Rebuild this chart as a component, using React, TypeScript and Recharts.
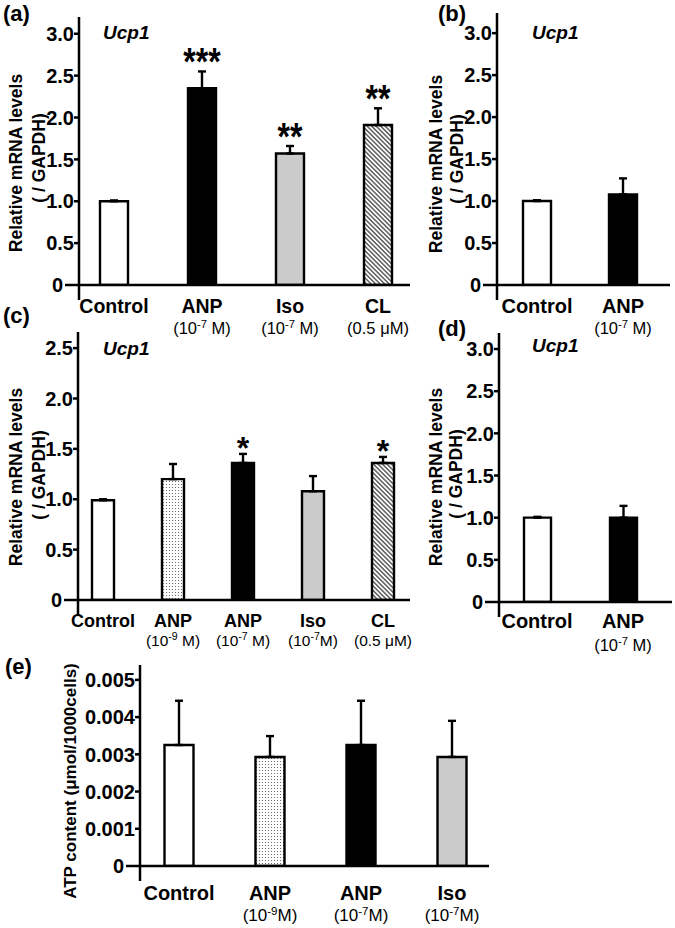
import React from 'react';
import { BarChart, Bar, XAxis, YAxis, ErrorBar, Cell, LabelList } from 'recharts';

const FONT = '"Liberation Sans", Arial, Helvetica, sans-serif';
const GREY = '#cbcbcb';

// (a) Ucp1, brown adipocytes
const aNames = ['Control', 'ANP', 'Iso', 'CL'];
const aDoses = ['', '(10{-7} M)', '(10{-7} M)', '(0.5 μM)'];
const aMeans = [1.0, 2.35, 1.57, 1.91];
const aErrs = [0.01, 0.2, 0.09, 0.2];
const aStars = ['', '***', '**', '**'];

// (b) Ucp1
const bNames = ['Control', 'ANP'];
const bDoses = ['', '(10{-7} M)'];
const bMeans = [1.0, 1.08];
const bErrs = [0.01, 0.19];

// (c) Ucp1
const cNames = ['Control', 'ANP', 'ANP', 'Iso', 'CL'];
const cDoses = ['', '(10{-9} M)', '(10{-7} M)', '(10{-7}M)', '(0.5 μM)'];
const cMeans = [0.99, 1.2, 1.36, 1.08, 1.36];
const cErrs = [0.01, 0.15, 0.09, 0.15, 0.06];
const cStars = ['', '', '*', '', '*'];

// (d) Ucp1
const dNames = ['Control', 'ANP'];
const dDoses = ['', '(10{-7} M)'];
const dMeans = [1.0, 1.0];
const dErrs = [0.01, 0.14];

// (e) ATP content
const eNames = ['Control', 'ANP', 'ANP', 'Iso'];
const eDoses = ['', '(10{-9}M)', '(10{-7}M)', '(10{-7}M)'];
const eMeans = [0.00325, 0.00293, 0.00325, 0.00293];
const eErrs = [0.00119, 0.00056, 0.00119, 0.00097];

const mrnaTicks = [0, 0.5, 1.0, 1.5, 2.0, 2.5, 3.0];
const mrnaTicksC = [0, 0.5, 1.0, 1.5, 2.0, 2.5];
const atpTicks = [0, 0.001, 0.002, 0.003, 0.004, 0.005];

const fmt1 = (v: number) => (v === 0 ? '0' : v.toFixed(1));
const fmt3 = (v: number) => (v === 0 ? '0' : v.toFixed(3));

function Dose({ text, x, y, size }: { text: string; x: number; y: number; size: number }) {
  const parts = text.split(/(\{[^}]*\})/).filter(Boolean);
  const lift = size * 0.38;
  let raised = false;
  return (
    <text x={x} y={y} textAnchor="middle" fontSize={size} fontFamily={FONT} fill="#000">
      {parts.map((p, i) => {
        if (p.startsWith('{')) {
          raised = true;
          return (
            <tspan key={i} dy={-lift} fontSize={size * 0.68}>
              {p.slice(1, -1)}
            </tspan>
          );
        }
        const dy = raised ? lift : 0;
        raised = false;
        return (
          <tspan key={i} dy={dy}>
            {p}
          </tspan>
        );
      })}
    </text>
  );
}

type PanelProps = {
  id: string;
  left: number;
  top: number;
  width: number;
  height: number;
  margin: { top: number; right: number; bottom: number; left: number };
  yWidth: number;
  xHeight: number;
  domain: [number, number];
  ticks: number[];
  fmt: (v: number) => string;
  tickSize: number;
  names: string[];
  doses: string[];
  means: number[];
  errs: number[];
  stars?: string[];
  fills: string[];
  barSize: number;
  padding: { left: number; right: number };
  nameDy: number;
  doseDy: number;
  nameSize: number;
  doseSize: number;
  starDy?: number;
  starStretch?: number;
};

function Panel(p: PanelProps) {
  const data = p.names.map((n, i) => ({
    id: i,
    name: n,
    mean: p.means[i],
    err: [0, p.errs[i]],
  }));

  const yTick = (t: any) => {
    const { x, y, payload } = t;
    const zero = payload.value === 0;
    const len = zero ? 14 : 5;
    return (
      <g>
        <line x1={x - len} x2={x} y1={y} y2={y} stroke="#000" strokeWidth={2.5} />
        {zero && <line x1={x} x2={x} y1={y} y2={y + 15} stroke="#000" strokeWidth={2.5} />}
        <text
          x={x - len - (zero ? 2 : 0)}
          y={y}
          dy="0.36em"
          textAnchor="end"
          fontSize={p.tickSize}
          fontWeight="bold"
          fontFamily={FONT}
          fill="#000"
        >
          {p.fmt(payload.value)}
        </text>
      </g>
    );
  };

  const xTick = (t: any) => {
    const { x, y, payload } = t;
    const dose = p.doses[payload.index];
    return (
      <g>
        <text
          x={x}
          y={y + p.nameDy}
          textAnchor="middle"
          fontSize={p.nameSize}
          fontWeight="bold"
          fontFamily={FONT}
          fill="#000"
        >
          {payload.value}
        </text>
        {dose && <Dose text={dose} x={x} y={y + p.doseDy} size={p.doseSize} />}
      </g>
    );
  };

  const starLabel = (props: any) => {
    const i = Number(props.value);
    const s = p.stars ? p.stars[i] : '';
    if (!s) return null;
    const vb = props.viewBox && props.viewBox.width !== undefined ? props.viewBox : props;
    const h = Math.abs(vb.height);
    const pxPerUnit = h / p.means[i];
    const top = Math.min(vb.y, vb.y + vb.height) - p.errs[i] * pxPerUnit;
    const cx = vb.x + vb.width / 2;
    const by = top + (p.starDy ?? 5);
    return (
      <text
        transform={`translate(${cx},${by}) scale(1,${p.starStretch ?? 1})`}
        textAnchor="middle"
        fontSize={32}
        fontWeight="bold"
        fontFamily={FONT}
        fill="#000"
      >
        {s}
      </text>
    );
  };

  return (
    <div style={{ position: 'absolute', left: p.left, top: p.top, width: p.width, height: p.height }}>
      <BarChart width={p.width} height={p.height} data={data} margin={p.margin}>
        <defs>
          <pattern id={`dots-${p.id}`} width={3} height={3} patternUnits="userSpaceOnUse">
            <rect width={3} height={3} fill="#fff" />
            <circle cx={1.5} cy={1.5} r={0.6} fill="#555" />
          </pattern>
          <pattern
            id={`hatch-${p.id}`}
            width={3.2}
            height={3.2}
            patternUnits="userSpaceOnUse"
            patternTransform="rotate(-45)"
          >
            <rect width={3.2} height={3.2} fill="#fff" />
            <line x1={0.8} y1={0} x2={0.8} y2={3.2} stroke="#222" strokeWidth={1.1} />
          </pattern>
        </defs>
        <XAxis
          dataKey="name"
          height={p.xHeight}
          padding={p.padding}
          interval={0}
          tickLine={false}
          tickSize={0}
          tickMargin={0}
          axisLine={{ stroke: '#000', strokeWidth: 2.5 }}
          tick={xTick}
        />
        <YAxis
          width={p.yWidth}
          domain={p.domain}
          ticks={p.ticks}
          interval={0}
          allowDataOverflow
          tickLine={false}
          tickSize={0}
          tickMargin={0}
          axisLine={{ stroke: '#000', strokeWidth: 2.5 }}
          tick={yTick}
        />
        <Bar dataKey="mean" barSize={p.barSize} stroke="#000" strokeWidth={2.4} isAnimationActive={false}>
          {data.map((_, i) => (
            <Cell key={i} fill={p.fills[i].replace('#ID', p.id)} />
          ))}
          <ErrorBar dataKey="err" width={4} stroke="#000" strokeWidth={2.4} direction="y" isAnimationActive={false} />
          {p.stars && <LabelList dataKey="id" content={starLabel} />}
        </Bar>
      </BarChart>
    </div>
  );
}

const WHITE = '#ffffff';
const BLACK = '#000000';
const DOTS = 'url(#dots-#ID)';
const HATCH = 'url(#hatch-#ID)';

function YTitle({ x1, x2, cy1, cy2, size }: { x1: number; x2: number; cy1: number; cy2: number; size: number }) {
  return (
    <g fontFamily={FONT} fontWeight="bold" fontSize={size} fill="#000" textAnchor="middle">
      <text transform={`translate(${x1},${cy1}) rotate(-90)`}>Relative mRNA levels</text>
      <text transform={`translate(${x2},${cy2}) rotate(-90)`}>( / GAPDH)</text>
    </g>
  );
}

export default function App() {
  return (
    <div style={{ position: 'absolute', left: 0, top: 0, width: 675, height: 928, background: '#fff', overflow: 'hidden' }}>
      <Panel
        id="a"
        left={0}
        top={0}
        width={412}
        height={345}
        margin={{ top: 17, right: 2, bottom: 0, left: 0 }}
        yWidth={79}
        xHeight={60}
        domain={[0, 3.2]}
        ticks={mrnaTicks}
        fmt={fmt1}
        tickSize={20}
        names={aNames}
        doses={aDoses}
        means={aMeans}
        errs={aErrs}
        stars={aStars}
        fills={[WHITE, BLACK, GREY, HATCH]}
        barSize={28}
        padding={{ left: -9, right: -12 }}
        nameDy={28}
        doseDy={49}
        nameSize={19.5}
        doseSize={16.5}
        starDy={4}
        starStretch={1.2}
      />
      <Panel
        id="b"
        left={412}
        top={0}
        width={263}
        height={345}
        margin={{ top: 13, right: 5, bottom: 0, left: 0 }}
        yWidth={85}
        xHeight={60}
        domain={[0, 3.24]}
        ticks={mrnaTicks}
        fmt={fmt1}
        tickSize={20}
        names={bNames}
        doses={bDoses}
        means={bMeans}
        errs={bErrs}
        fills={[WHITE, BLACK]}
        barSize={28}
        padding={{ left: -3, right: 4 }}
        nameDy={28}
        doseDy={49}
        nameSize={20}
        doseSize={16.5}
      />
      <Panel
        id="c"
        left={0}
        top={300}
        width={412}
        height={360}
        margin={{ top: 32, right: 2, bottom: 0, left: 0 }}
        yWidth={78}
        xHeight={60}
        domain={[0, 2.66]}
        ticks={mrnaTicksC}
        fmt={fmt1}
        tickSize={20}
        names={cNames}
        doses={cDoses}
        means={cMeans}
        errs={cErrs}
        stars={cStars}
        fills={[WHITE, DOTS, BLACK, GREY, HATCH]}
        barSize={22}
        padding={{ left: -10, right: -8 }}
        nameDy={27}
        doseDy={46}
        nameSize={18}
        doseSize={15.5}
        starDy={5}
        starStretch={1}
      />
      <Panel
        id="d"
        left={412}
        top={300}
        width={263}
        height={360}
        margin={{ top: 33, right: 3, bottom: 0, left: 0 }}
        yWidth={87}
        xHeight={58}
        domain={[0, 3.19]}
        ticks={mrnaTicks}
        fmt={fmt1}
        tickSize={20}
        names={dNames}
        doses={dDoses}
        means={dMeans}
        errs={dErrs}
        fills={[WHITE, BLACK]}
        barSize={27}
        padding={{ left: -5, right: 6 }}
        nameDy={26}
        doseDy={49}
        nameSize={20}
        doseSize={16.5}
      />
      <Panel
        id="e"
        left={0}
        top={640}
        width={500}
        height={288}
        margin={{ top: 25, right: 11, bottom: 0, left: 0 }}
        yWidth={140}
        xHeight={62}
        domain={[0, 0.0054]}
        ticks={atpTicks}
        fmt={fmt3}
        tickSize={20}
        names={eNames}
        doses={eDoses}
        means={eMeans}
        errs={eErrs}
        fills={[WHITE, DOTS, BLACK, GREY]}
        barSize={29}
        padding={{ left: -6.5, right: -8.5 }}
        nameDy={34}
        doseDy={55}
        nameSize={20}
        doseSize={17}
      />
      <svg
        width={675}
        height={928}
        style={{ position: 'absolute', left: 0, top: 0, pointerEvents: 'none' }}
      >
        <g fontFamily={FONT} fontWeight="bold" fontSize={22} fill="#000">
          <text x={3} y={21}>(a)</text>
          <text x={438} y={21}>(b)</text>
          <text x={3} y={323}>(c)</text>
          <text x={438} y={336}>(d)</text>
          <text x={5} y={674}>(e)</text>
        </g>
        <g fontFamily={FONT} fontWeight="bold" fontStyle="italic" fontSize={19} fill="#000">
          <text x={103} y={39}>Ucp1</text>
          <text x={532} y={39}>Ucp1</text>
          <text x={103} y={355}>Ucp1</text>
          <text x={532} y={352}>Ucp1</text>
        </g>
        <YTitle x1={22} x2={45} cy1={163} cy2={158} size={17.5} />
        <YTitle x1={442} x2={463} cy1={164} cy2={159} size={17.5} />
        <YTitle x1={22} x2={45} cy1={477} cy2={475} size={17.5} />
        <YTitle x1={442} x2={462} cy1={477} cy2={474} size={17.5} />
        <text
          transform="translate(76,781) rotate(-90)"
          textAnchor="middle"
          fontFamily={FONT}
          fontWeight="bold"
          fontSize={17}
          fill="#000"
        >
          ATP content (μmol/1000cells)
        </text>
      </svg>
    </div>
  );
}
